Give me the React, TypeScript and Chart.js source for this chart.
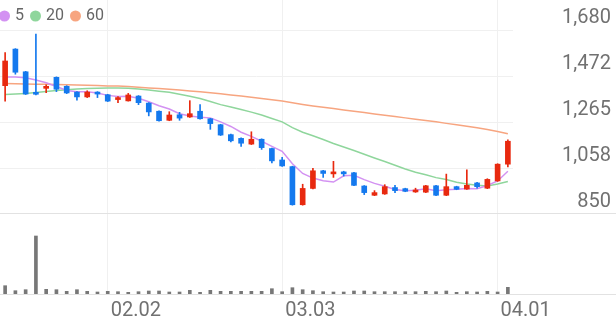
import { useEffect, useRef } from "react";
import { Chart, registerables } from "chart.js";

Chart.register(...registerables);

// ---- data ----
const dates = [
  "01.19", "01.20", "01.21", "01.22", "01.25", "01.26", "01.27", "01.28", "01.29", "02.01",
  "02.02", "02.03", "02.04", "02.05", "02.08", "02.09", "02.10", "02.15", "02.16", "02.17",
  "02.18", "02.19", "02.22", "02.23", "02.24", "02.25", "03.02", "03.03", "03.04", "03.05",
  "03.08", "03.09", "03.10", "03.11", "03.12", "03.15", "03.16", "03.17", "03.18", "03.19",
  "03.22", "03.23", "03.24", "03.25", "03.26", "03.29", "03.30", "03.31", "04.01", "04.02",
];
const shownDates = ["02.02", "03.03", "04.01"];

const opens = [
  1432, 1598, 1495, 1402, 1420, 1470, 1429, 1403, 1381, 1403,
  1391, 1369, 1363, 1385, 1353, 1316, 1275, 1300, 1290, 1316,
  1282, 1255, 1210, 1193, 1167, 1189, 1147, 1095, 1065, 892,
  966, 1046, 1032, 1040, 1037, 977, 935, 941, 970, 965,
  950, 949, 978, 935, 974, 963, 991, 967, 1000, 1076,
];
const highs = [
  1582, 1600, 1497, 1666, 1436, 1472, 1432, 1405, 1409, 1405,
  1393, 1382, 1397, 1387, 1355, 1318, 1314, 1311, 1364, 1346,
  1284, 1257, 1212, 1195, 1223, 1191, 1149, 1107, 1067, 985,
  1057, 1048, 1089, 1044, 1039, 979, 956, 983, 980, 967,
  967, 980, 980, 1031, 976, 1050, 994, 1010, 1078, 1186,
];
const lows = [
  1362, 1484, 1392, 1390, 1400, 1405, 1396, 1366, 1378, 1378,
  1360, 1355, 1362, 1346, 1295, 1271, 1273, 1275, 1288, 1280,
  1234, 1206, 1177, 1157, 1165, 1143, 1082, 1066, 890, 890,
  964, 1016, 1016, 1022, 978, 938, 933, 939, 947, 951,
  948, 947, 933, 933, 960, 961, 967, 965, 998, 1064,
];
const closes = [
  1544, 1493, 1394, 1393, 1428, 1416, 1399, 1381, 1403, 1394,
  1362, 1374, 1390, 1355, 1313, 1273, 1299, 1285, 1305, 1282,
  1260, 1208, 1182, 1171, 1189, 1151, 1091, 1068, 892, 966,
  1046, 1034, 1038, 1032, 980, 947, 947, 974, 956, 953,
  959, 978, 935, 974, 962, 980, 974, 1007, 1076, 1180,
];
const ma5 = [
  1471, 1471, 1468, 1458, 1445, 1428, 1410, 1404, 1405, 1399,
  1388, 1383, 1384, 1375, 1359, 1341, 1326, 1305, 1295, 1289,
  1286, 1268, 1247, 1221, 1202, 1180, 1157, 1134, 1078, 1034,
  1013, 1001, 995, 1023, 1026, 1006, 989, 976, 961, 955,
  958, 964, 956, 960, 962, 966, 965, 979, 1000, 1044,
];
const ma20 = [
  1392, 1394, 1397, 1401, 1406, 1410, 1414, 1417, 1419, 1420,
  1421, 1421, 1420, 1417, 1412, 1407, 1402, 1393, 1384, 1374,
  1360, 1346, 1335, 1324, 1312, 1299, 1283, 1268, 1242, 1221,
  1205, 1188, 1170, 1154, 1138, 1121, 1104, 1088, 1071, 1054,
  1039, 1028, 1015, 1006, 994, 986, 980, 977, 986, 997,
];
const ma60 = [
  1442, 1441, 1440, 1439, 1438, 1437, 1436, 1435, 1434, 1433,
  1431, 1430, 1428, 1425, 1422, 1419, 1416, 1412, 1408, 1404,
  1400, 1395, 1390, 1385, 1380, 1374, 1368, 1362, 1355, 1347,
  1340, 1334, 1328, 1322, 1316, 1310, 1304, 1298, 1292, 1286,
  1280, 1274, 1268, 1261, 1255, 1248, 1241, 1233, 1224, 1214,
];
const volumes = [
  830, 330, 430, 5800, 470, 430, 270, 430, 270, 200,
  270, 230, 170, 230, 300, 300, 200, 200, 370, 170,
  370, 270, 270, 270, 270, 270, 530, 230, 630, 430,
  330, 230, 200, 200, 300, 300, 230, 230, 230, 230,
  230, 270, 230, 300, 170, 230, 200, 270, 200, 670,
];
const priceTicks = [850, 1058, 1265, 1472, 1680];
const maLabels = ["5", "20", "60"];

// ---- styles ----
const UP = "#e8290f";
const DOWN = "#1479ee";
const MA_COLORS = ["#d392f2", "#8fd69c", "#f7a580"];
const GRID = "#f0f0f0";
const LINE = "#e2e2e2";
const TEXT = "#717171";
const FONT = "Roboto";

const candleColors = closes.map((c, i) => (c >= opens[i] ? UP : DOWN));
const isShown = (i: number) => shownDates.includes(dates[i]);

const legendPlugin = {
  id: "maLegend",
  afterDraw(chart: any) {
    const ctx = chart.ctx;
    ctx.save();
    ctx.font = `16px ${FONT}`;
    ctx.textBaseline = "middle";
    let x = 4.5;
    const y = 16;
    chart.data.datasets
      .filter((d: any) => d.type === "line")
      .forEach((d: any) => {
        ctx.fillStyle = d.borderColor;
        ctx.beginPath();
        ctx.arc(x, y, 5.5, 0, Math.PI * 2);
        ctx.fill();
        ctx.fillStyle = "#666";
        ctx.fillText(d.label, x + 10.5, y);
        x += 10.5 + ctx.measureText(d.label).width + 11.5;
      });
    ctx.restore();
  },
};

const baseLinePlugin = (dy: number) => ({
  id: "baseLine",
  afterDraw(chart: any) {
    const ctx = chart.ctx;
    const y = chart.chartArea.bottom + dy;
    ctx.save();
    ctx.strokeStyle = LINE;
    ctx.lineWidth = 1;
    ctx.beginPath();
    ctx.moveTo(0, y);
    ctx.lineTo(chart.width, y);
    ctx.stroke();
    ctx.restore();
  },
});

const xGridColor = (ctx: any) => (isShown(ctx.index) ? GRID : "rgba(0,0,0,0)");

export default function App() {
  const priceRef = useRef<HTMLCanvasElement>(null);
  const volRef = useRef<HTMLCanvasElement>(null);

  useEffect(() => {
    document.body.style.margin = "0";
    const maSets = [ma5, ma20, ma60].map((d, k) => ({
      type: "line" as const,
      label: maLabels[k],
      data: d,
      borderColor: MA_COLORS[k],
      backgroundColor: MA_COLORS[k],
      borderWidth: 1.5,
      pointRadius: 0,
      tension: 0,
      order: 3,
    }));

    const price = new Chart(priceRef.current!, {
      type: "bar",
      data: {
        labels: dates,
        datasets: [
          ...maSets,
          {
            type: "bar",
            label: "wick",
            data: lows.map((l, i) => [l, highs[i]]) as any,
            backgroundColor: candleColors,
            barThickness: 1,
            grouped: false,
            order: 2,
          },
          {
            type: "bar",
            label: "body",
            data: opens.map((o, i) => [o, closes[i]]) as any,
            backgroundColor: candleColors,
            barThickness: 5,
            minBarLength: 2,
            grouped: false,
            order: 1,
          },
        ] as any,
      },
      options: {
        animation: false,
        responsive: false,
        events: [],
        layout: { padding: { left: 0, right: 5, top: 0, bottom: 0 } },
        plugins: { legend: { display: false }, tooltip: { enabled: false } },
        scales: {
          x: {
            offset: true,
            grid: { offset: false, color: xGridColor, drawTicks: false },
            border: { display: false },
            ticks: { display: false },
          },
          y: {
            position: "right",
            min: 850,
            max: 1820.6,
            afterBuildTicks: (s: any) => {
              s.ticks = priceTicks.map((v) => ({ value: v }));
            },
            afterFit: (s: any) => {
              s.width = 98;
              s.paddingTop = 0;
              s.paddingBottom = 0;
            },
            grid: { color: GRID, drawTicks: false },
            border: { display: false },
            ticks: {
              crossAlign: "far",
              labelOffset: -12.5,
              padding: 0,
              color: TEXT,
              font: { family: FONT, size: 20 },
              callback: (v: any) => Number(v).toLocaleString("en-US"),
            },
          },
        },
      } as any,
      plugins: [legendPlugin, baseLinePlugin(-0.5)],
    });

    const vol = new Chart(volRef.current!, {
      type: "bar",
      data: {
        labels: dates,
        datasets: [
          {
            label: "volume",
            data: volumes,
            backgroundColor: "#777777",
            barThickness: 3,
          },
        ],
      },
      options: {
        animation: false,
        responsive: false,
        events: [],
        layout: { padding: { left: 0, right: 5, top: 0, bottom: 0 } },
        plugins: { legend: { display: false }, tooltip: { enabled: false } },
        scales: {
          x: {
            offset: true,
            grid: { offset: false, color: xGridColor, drawTicks: false },
            border: { display: false },
            afterFit: (s: any) => {
              s.height = 27;
            },
            ticks: {
              autoSkip: false,
              maxRotation: 0,
              minRotation: 0,
              align: "start",
              labelOffset: 3,
              padding: 5,
              color: TEXT,
              font: { family: FONT, size: 20 },
              callback: (_v: any, i: number) => (isShown(i) ? dates[i] : ""),
            },
          },
          y: {
            position: "right",
            min: 0,
            max: 8000,
            afterFit: (s: any) => {
              s.width = 98;
            },
            grid: { display: false },
            border: { display: false },
            ticks: { display: false },
          },
        },
      } as any,
      plugins: [baseLinePlugin(0.5)],
    });

    return () => {
      price.destroy();
      vol.destroy();
    };
  }, []);

  return (
    <div style={{ width: 616, height: 321, background: "#fff" }}>
      <canvas ref={priceRef} width={616} height={214} style={{ display: "block" }} />
      <canvas ref={volRef} width={616} height={107} style={{ display: "block" }} />
    </div>
  );
}
